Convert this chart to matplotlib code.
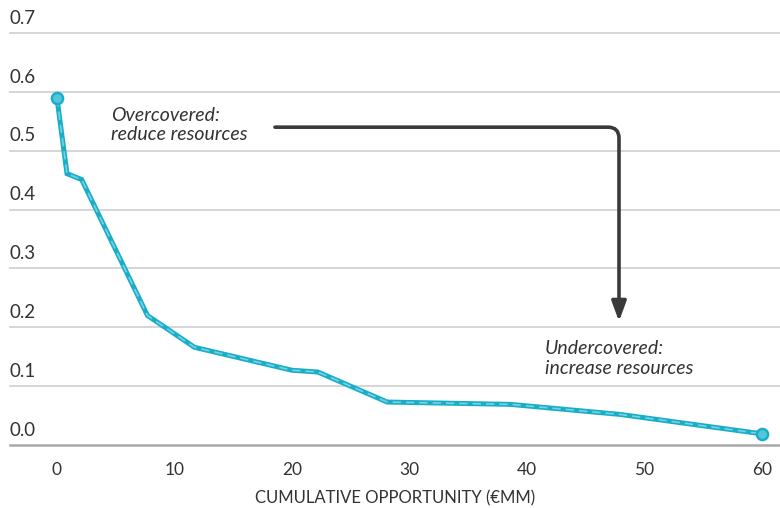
import matplotlib
matplotlib.use("Agg")
import matplotlib.pyplot as plt
import matplotlib.transforms as mtransforms
from matplotlib.patches import FancyArrowPatch

# Data
x_vals = [0, 0.85, 2.1, 7.7, 11.7, 20.0, 22.2, 28.1, 38.6, 47.9, 60]
y_vals = [0.589, 0.461, 0.451, 0.220, 0.166, 0.127, 0.124, 0.073, 0.069, 0.052, 0.019]
y_ticks = [0.0, 0.1, 0.2, 0.3, 0.4, 0.5, 0.6, 0.7]
y_tick_labels = ["0.0", "0.1", "0.2", "0.3", "0.4", "0.5", "0.6", "0.7"]
x_ticks = [0, 10, 20, 30, 40, 50, 60]
x_tick_labels = ["0", "10", "20", "30", "40", "50", "60"]
x_label = "CUMULATIVE OPPORTUNITY (€MM)"
note_over = "Overcovered:\nreduce resources"
note_under = "Undercovered:\nincrease resources"

plt.rcParams['font.family'] = ['Lato', 'DejaVu Sans']

W, H = 780, 508
fig = plt.figure(figsize=(W / 100, H / 100), dpi=100)
ax = fig.add_axes([10 / W, 1 - 445 / H, 770 / W, 412 / H])

px_per_x = (762 - 57) / 60.0
ax.set_xlim(-(57 - 10) / px_per_x, (780 - 57) / px_per_x)
ax.set_ylim(0, 0.7)

for s in ax.spines.values():
    s.set_visible(False)

# gridlines
for v in y_ticks:
    if v == 0:
        ax.axhline(v, color="#a9a9a9", lw=1.8, zorder=1, clip_on=False)
    else:
        ax.axhline(v, color="#cfcfcf", lw=1.2, zorder=1, clip_on=False)

# y tick labels inside, above gridlines
ax.set_yticks([])
trans = mtransforms.blended_transform_factory(ax.transAxes, ax.transData)
for v, lab in zip(y_ticks, y_tick_labels):
    ax.annotate(lab, xy=(0, v), xycoords=trans, xytext=(0, 4.5), textcoords="offset points",
                ha="left", va="bottom", fontsize=13.5, color="#333333", annotation_clip=False)

ax.set_xticks(x_ticks)
ax.set_xticklabels(x_tick_labels, fontsize=12.5, color="#333333")
ax.tick_params(axis="x", length=0, pad=12)
ax.set_xlabel(x_label, fontsize=12, color="#333333", labelpad=9)

# main line: outer solid + inner dashed lighter
ax.plot(x_vals, y_vals, color="#19aec8", lw=3.6, solid_joinstyle="miter", zorder=3, clip_on=False)
ax.plot(x_vals, y_vals, color="#78d2e2", lw=1.2, ls=(0, (5, 3)), zorder=4, clip_on=False)
ax.plot([x_vals[0], x_vals[-1]], [y_vals[0], y_vals[-1]], ls="none", marker="o", ms=8,
        mfc="#55c6da", mec="#19aec8", mew=1.8, zorder=5, clip_on=False)

# annotations
ax.text(4.6, 0.544, note_over, fontsize=14, style="italic", color="#333333",
        ha="left", va="center", linespacing=1.15)
ax.text(41.5, 0.147, note_under, fontsize=14, style="italic", color="#333333",
        ha="left", va="center", linespacing=1.15)

arrow = FancyArrowPatch(posA=(18.55, 0.540), posB=(47.83, 0.21),
                        connectionstyle="angle,angleA=0,angleB=90,rad=11",
                        arrowstyle="-|>,head_length=0.6,head_width=0.22",
                        mutation_scale=20, shrinkA=0, shrinkB=0,
                        color="#3a3a3a", lw=2.6, capstyle="round", zorder=6)
ax.add_patch(arrow)

fig.savefig("out.png", dpi=100)
